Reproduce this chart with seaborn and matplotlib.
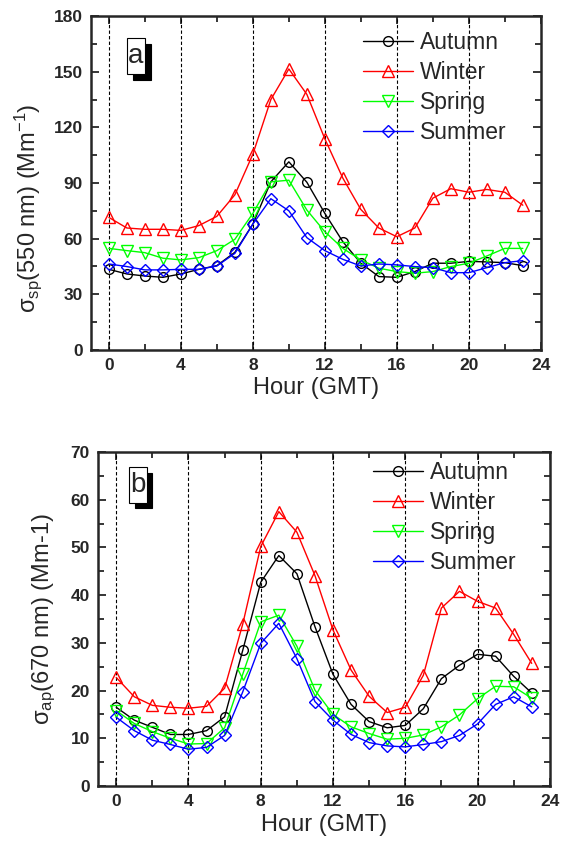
import numpy as np
import pandas as pd
import seaborn as sns
import matplotlib
matplotlib.use("Agg")
import matplotlib.pyplot as plt
from matplotlib.ticker import MultipleLocator
from matplotlib.patches import Rectangle

sns.set_style("ticks")
plt.rcParams['font.family'] = ['Liberation Sans', 'DejaVu Sans']
plt.rcParams['mathtext.fontset'] = 'custom'
plt.rcParams['mathtext.rm'] = 'Liberation Sans'
plt.rcParams['mathtext.it'] = 'Liberation Sans:italic'

hours = list(range(24))
seasons = ["Autumn", "Winter", "Spring", "Summer"]

scat_autumn = [43.4, 40.9, 39.8, 39.1, 40.9, 43.4, 45.4, 52.6, 67.8, 90.6, 101.4, 90.4,
               73.6, 58.3, 46.7, 39.5, 39.1, 42.2, 46.7, 46.7, 47.7, 47.4, 47.0, 45.4]
scat_winter = [71.4, 65.7, 65.0, 65.0, 64.4, 67.0, 72.0, 83.6, 105.5, 135.0, 151.5, 137.8,
               113.8, 92.6, 75.7, 65.7, 61.0, 65.7, 81.8, 86.9, 85.0, 86.5, 85.0, 78.0]
scat_spring = [54.7, 53.5, 52.4, 49.4, 48.5, 49.7, 53.5, 59.6, 73.6, 90.6, 91.5, 75.4,
               63.7, 54.7, 48.5, 44.0, 42.2, 41.3, 42.2, 44.9, 46.7, 50.6, 54.7, 54.7]
scat_summer = [46.3, 44.9, 43.1, 43.1, 43.4, 43.4, 45.2, 52.0, 67.8, 81.5, 75.0, 60.5,
               53.5, 48.8, 45.2, 46.3, 45.8, 44.9, 44.3, 41.6, 41.6, 44.3, 47.0, 48.1]

abs_autumn = [16.5, 13.8, 12.3, 10.8, 10.8, 11.6, 14.5, 28.4, 42.7, 48.3, 44.5, 33.4,
              23.4, 17.1, 13.5, 12.2, 12.7, 16.2, 22.5, 25.3, 27.6, 27.2, 23.0, 19.5]
abs_winter = [22.75, 18.7, 16.9, 16.5, 16.3, 16.7, 20.5, 33.9, 50.2, 57.5, 53.2, 44.1,
              32.7, 24.3, 18.8, 15.4, 16.5, 23.2, 37.3, 40.8, 38.7, 37.3, 31.8, 25.7]
abs_spring = [15.8, 13.1, 11.4, 10.0, 8.8, 8.9, 12.2, 23.4, 34.4, 35.8, 29.3, 20.1,
              15.0, 12.4, 11.0, 9.8, 10.0, 10.7, 12.4, 14.9, 18.3, 20.9, 20.8, 18.4]
abs_summer = [14.4, 11.6, 9.6, 8.7, 7.7, 8.1, 10.6, 19.7, 29.9, 34.1, 26.7, 17.7,
              13.8, 10.8, 9.1, 8.4, 8.2, 8.7, 9.3, 10.6, 13.0, 17.1, 18.7, 16.6]

colors = {"Autumn": "#000000", "Winter": "#FF0000", "Spring": "#00FF00", "Summer": "#0000FF"}
markers = {"Autumn": "o", "Winter": "^", "Spring": "v", "Summer": "D"}
msizes = {"Autumn": 7, "Winter": 8, "Spring": 8, "Summer": 6}

fig = plt.figure(figsize=(5.61, 8.49), dpi=100)
axa = fig.add_axes([0.162, 0.588, 0.802, 0.393])
axb = fig.add_axes([0.175, 0.0742, 0.805, 0.3934])


def draw(ax, series, ylim, ymaj, ymin, ylabel, ylab_y, letter, box, shadow, leg_anchor):
    for x in [0, 4, 8, 12, 16, 20]:
        ax.axvline(x, color="black", lw=0.8, ls=(0, (3, 2)), zorder=1)
    for name, vals in zip(seasons, series):
        df = pd.DataFrame({"Hour": hours, "val": vals})
        c = colors[name]
        sns.lineplot(data=df, x="Hour", y="val", ax=ax, color=c, lw=1.0,
                     marker=markers[name], markersize=msizes[name],
                     markerfacecolor="none", markeredgecolor=c,
                     markeredgewidth=1.0, label=name, zorder=3)
    ax.set_xlim(-1, 24)
    ax.set_ylim(*ylim)
    ax.xaxis.set_major_locator(MultipleLocator(4))
    ax.xaxis.set_minor_locator(MultipleLocator(2))
    ax.yaxis.set_major_locator(MultipleLocator(ymaj))
    ax.yaxis.set_minor_locator(MultipleLocator(ymin))
    ax.tick_params(which="both", direction="in", top=True, right=True, width=1.3,
                   labelsize=12.5, pad=6)
    ax.tick_params(which="major", length=6)
    ax.tick_params(which="minor", length=4)
    for lab in ax.get_xticklabels() + ax.get_yticklabels():
        lab.set_fontweight("bold")
    for sp in ax.spines.values():
        sp.set_linewidth(1.8)
    ax.set_xlabel("Hour (GMT)", fontsize=17, labelpad=3)
    ax.set_ylabel(ylabel, fontsize=17, labelpad=6)
    ax.yaxis.set_label_coords(ylab_y[0], ylab_y[1])
    ax.legend(loc="upper left", bbox_to_anchor=leg_anchor, frameon=False,
              fontsize=16.5, handlelength=2.2, handletextpad=0.3,
              labelspacing=0.3, borderpad=0, borderaxespad=0)
    # letter label box with black shadow
    x0, y0, w, h = box
    dx, dy = shadow
    ax.add_patch(Rectangle((x0 + dx, y0 + dy), w, h, transform=ax.transAxes,
                           facecolor="black", edgecolor="black", lw=0.8, zorder=5))
    ax.add_patch(Rectangle((x0, y0), w, h, transform=ax.transAxes,
                           facecolor="white", edgecolor="black", lw=0.8, zorder=6))
    ax.text(x0 + w / 2, y0 + h / 2, letter, transform=ax.transAxes, fontsize=20,
            ha="center", va="center", zorder=7)


draw(axa, [scat_autumn, scat_winter, scat_spring, scat_summer], (0, 180), 30, 15,
     r"σ$_{\mathrm{sp}}$(550 nm) (Mm$^{\mathrm{-1}}$)", (-0.105, 0.425), "a",
     (0.080, 0.826, 0.040, 0.108), (0.0133, -0.018), (0.604, 0.954))
draw(axb, [abs_autumn, abs_winter, abs_spring, abs_summer], (0, 70), 10, 5,
     r"σ$_{\mathrm{ap}}$(670 nm) (Mm-1)", (-0.09, 0.5), "b",
     (0.069, 0.848, 0.0385, 0.106), (0.012, -0.016), (0.608, 0.972))

fig.savefig("out.png", dpi=100)
